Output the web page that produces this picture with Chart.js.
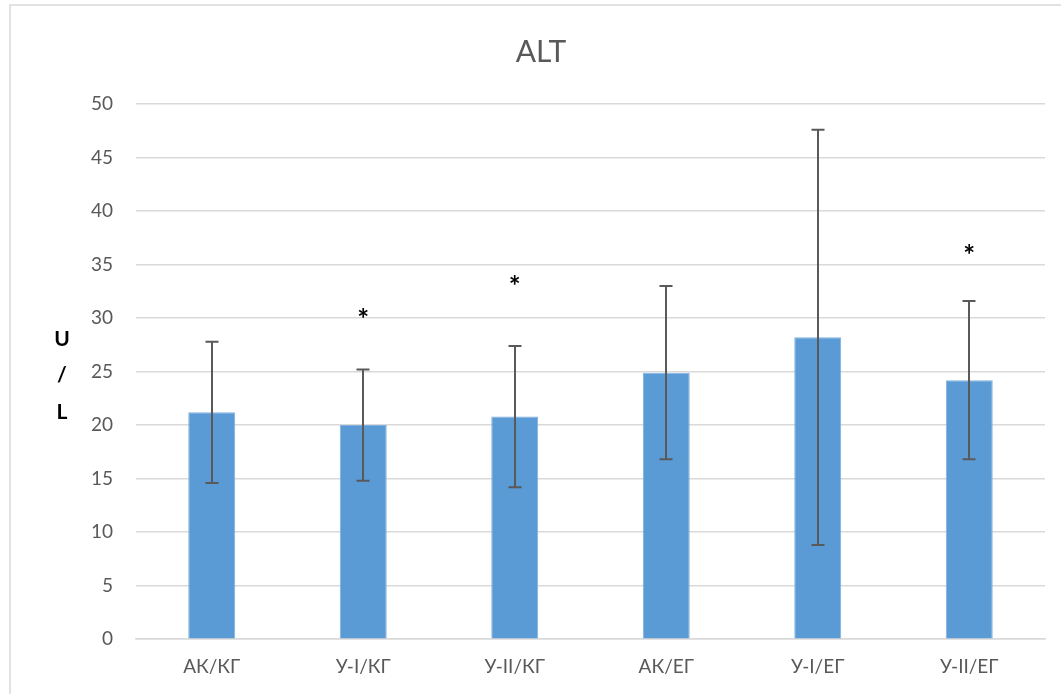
<!DOCTYPE html>
<html>
<head>
<meta charset="utf-8">
<script src="https://cdn.jsdelivr.net/npm/chart.js@4/dist/chart.umd.min.js"></script>
<style>
  html, body { margin: 0; padding: 0; background: #ffffff; }
  #wrap { position: relative; width: 1061px; height: 694px; }
</style>
</head>
<body>
<div id="wrap"><canvas id="c" width="1061" height="694"></canvas></div>
<script>
// Groups and mean ALT values (U/L)
const categories = ['АК/КГ', 'У-I/КГ', 'У-II/КГ', 'АК/ЕГ', 'У-I/ЕГ', 'У-II/ЕГ'];
const meanValues = [21.2, 20.0, 20.8, 24.9, 28.2, 24.2];
// Upper and lower ends of the error bars
const errHigh = [27.8, 25.2, 27.4, 33.0, 47.6, 31.6];
const errLow = [14.6, 14.8, 14.2, 16.8, 8.8, 16.8];
// Significance markers and the axis level where each is printed
const sigMarks = ['', '*', '*', '', '', '*'];
const sigLevel = [null, 30.4, 33.5, null, null, 36.4];
// Y axis
const yMax = 50;
const yStep = 5;
const axisUnitLetters = ['U', '/', 'L'];

const FONT = 'Lato, "Open Sans", "DejaVu Sans", sans-serif';
const GREY_TEXT = '#595959';
const GRID = '#d9d9d9';

// Light frame around the chart
const framePlugin = {
  id: 'frame',
  beforeDraw(chart) {
    const ctx = chart.ctx;
    ctx.save();
    ctx.strokeStyle = GRID;
    ctx.lineWidth = 1.5;
    ctx.beginPath();
    ctx.moveTo(10, chart.height);
    ctx.lineTo(10, 5);
    ctx.lineTo(chart.width, 5);
    ctx.stroke();
    ctx.restore();
  }
};

// Error bars with caps, plus significance asterisks
const errorBarPlugin = {
  id: 'errorBars',
  afterDatasetsDraw(chart) {
    const ctx = chart.ctx;
    const y = chart.scales.y;
    const meta = chart.getDatasetMeta(0);
    ctx.save();
    ctx.strokeStyle = '#595959';
    ctx.lineWidth = 2;
    meta.data.forEach((bar, i) => {
      const x = Math.round(bar.x);
      const yh = y.getPixelForValue(errHigh[i]);
      const yl = y.getPixelForValue(errLow[i]);
      const cap = 6.5;
      ctx.beginPath();
      ctx.moveTo(x, yh); ctx.lineTo(x, yl);
      ctx.moveTo(x - cap, yh); ctx.lineTo(x + cap, yh);
      ctx.moveTo(x - cap, yl); ctx.lineTo(x + cap, yl);
      ctx.stroke();
      if (sigMarks[i]) {
        ctx.fillStyle = '#000000';
        ctx.font = 'bold 28px ' + FONT;
        ctx.textAlign = 'center';
        ctx.textBaseline = 'middle';
        ctx.fillText(sigMarks[i], bar.x, y.getPixelForValue(sigLevel[i]) + 6);
      }
    });
    ctx.restore();
  }
};

// Stacked unit letters beside the y axis
const unitLabelPlugin = {
  id: 'unitLabel',
  afterDraw(chart) {
    const ctx = chart.ctx;
    const area = chart.chartArea;
    const mid = (area.top + area.bottom) / 2 + 4;
    const step = 36.5;
    ctx.save();
    ctx.fillStyle = '#000000';
    ctx.font = 'bold 21px ' + FONT;
    ctx.textAlign = 'center';
    ctx.textBaseline = 'middle';
    axisUnitLetters.forEach((ch, k) => {
      ctx.fillText(ch, 62, mid + (k - 1) * step);
    });
    ctx.restore();
  }
};

new Chart(document.getElementById('c'), {
  type: 'bar',
  data: {
    labels: categories,
    datasets: [{
      data: meanValues,
      backgroundColor: '#5b9bd5',
      borderColor: '#7fb0de',
      borderWidth: 1,
      barPercentage: 0.31,
      categoryPercentage: 1.0
    }]
  },
  options: {
    responsive: false,
    animation: false,
    devicePixelRatio: 1,
    layout: { padding: { left: 37, right: 16, top: 0, bottom: 0 } },
    plugins: {
      legend: { display: false },
      tooltip: { enabled: false },
      title: {
        display: true,
        text: 'ALT',
        color: GREY_TEXT,
        font: { family: FONT, size: 30, weight: 'normal' },
        padding: { top: 34, bottom: 34 }
      }
    },
    scales: {
      x: {
        grid: { display: false, drawTicks: false },
        border: { display: true, color: GRID, width: 1.5 },
        ticks: {
          color: GREY_TEXT,
          font: { family: FONT, size: 19 },
          padding: 16,
          maxRotation: 0
        }
      },
      y: {
        min: 0,
        max: yMax,
        afterFit(scale) { scale.width = 99; },
        grid: { color: GRID, lineWidth: 1.5, drawTicks: false },
        border: { display: false },
        ticks: {
          stepSize: yStep,
          color: GREY_TEXT,
          font: { family: FONT, size: 19 },
          padding: 23
        }
      }
    }
  },
  plugins: [framePlugin, errorBarPlugin, unitLabelPlugin]
});
</script>
</body>
</html>
